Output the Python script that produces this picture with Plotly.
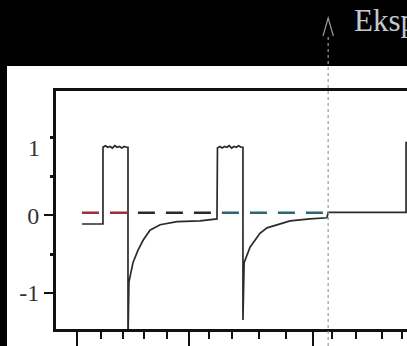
import plotly.graph_objects as go

# ---------------- data (time in tick units, signal in axis units) ----------------
t_sig = [0.21, 1.10, 1.10, 1.20, 1.30, 1.40, 1.50, 1.60, 1.70, 1.80, 1.90, 2.00, 2.10, 2.16,
         2.16, 2.20, 2.37, 2.58, 2.80, 3.09, 3.52, 4.24, 5.21, 5.93,
         5.95, 6.05, 6.15, 6.25, 6.35, 6.45, 6.55, 6.65, 6.75, 6.85, 6.95, 7.03,
         7.03, 7.08, 7.33, 7.75, 8.05, 8.60, 9.03, 9.87, 10.59,
         10.64, 13.94, 13.94, 14.6]
v_sig = [-0.11, -0.11, 0.88, 0.90, 0.88, 0.89, 0.87, 0.90, 0.88, 0.89, 0.87, 0.89, 0.88, 0.88,
         -1.60, -0.86, -0.61, -0.45, -0.32, -0.19, -0.12, -0.08, -0.07, -0.045,
         0.87, 0.89, 0.87, 0.89, 0.88, 0.90, 0.87, 0.89, 0.88, 0.90, 0.88, 0.88,
         -1.35, -0.61, -0.41, -0.23, -0.16, -0.11, -0.07, -0.045, -0.03,
         0.04, 0.04, 0.94, 0.93]

# dashed reference level, drawn in three scan-tinted segments
ref_level = 0.035
ref_segments_t = [(0.21, 2.58), (2.58, 6.14), (6.14, 10.64)]
ref_colors = ["#9c2f3e", "#262b31", "#2c6670"]

x_ticks_major = [0, 4.75, 10]
x_ticks_minor = [1.02, 1.95, 2.84, 3.81, 5.59, 6.57, 7.71, 8.86, 10.8, 11.82, 12.92, 13.77]
y_ticks_major = [0, -1]
y_ticktext = ["0", "-1"]
y_ticks_minor = [1, 0.5, -0.5]
marker_t = 10.64

# ---------------- layout geometry ----------------
W, H = 407, 346
L, R, T, B = 56, 0, 91, 17
pw, ph = W - L - R, H - T - B
x_range = [-0.89, 13.98]
y_range = [-1.465, 1.606]


def xp(px):
    return (px - L) / pw


def yp(py):
    return (H - B - py) / ph


fig = go.Figure()

for (a, b), c in zip(ref_segments_t, ref_colors):
    fig.add_trace(go.Scatter(x=[a, b], y=[ref_level, ref_level], mode="lines",
                             line=dict(color=c, width=2.6, dash="17px,11px"),
                             hoverinfo="skip", showlegend=False))

fig.add_trace(go.Scatter(x=t_sig, y=v_sig, mode="lines",
                         line=dict(color="#2b2b2b", width=1.7),
                         hoverinfo="skip", showlegend=False))

shapes = [
    # white scanned page region
    dict(type="rect", xref="paper", yref="paper", x0=xp(7), x1=1.0, y0=yp(346), y1=yp(66),
         fillcolor="white", line=dict(width=0), layer="below"),
    # dotted event marker line
    dict(type="line", xref="x", yref="paper", x0=marker_t, x1=marker_t, y0=yp(346), y1=yp(35),
         line=dict(color="#9a9a9a", width=1.2, dash="dot")),
    # open arrow head
    dict(type="path", xref="x", yref="paper",
         path=f"M {marker_t-0.22},{yp(36)} L {marker_t},{yp(18)} L {marker_t+0.22},{yp(36)}",
         line=dict(color="#9a9a9a", width=1.2)),
]

annotations = [
    dict(text="1", xref="paper", yref="y", x=xp(42), y=1, xanchor="right", yanchor="middle",
         yshift=-10, showarrow=False, font=dict(family="Liberation Serif", size=24, color="#333")),
    dict(text="Eksp", xref="paper", yref="paper", x=xp(352), y=yp(21), xanchor="left",
         yanchor="middle", showarrow=False,
         font=dict(family="Liberation Serif", size=31, color="#c4c8d2")),
]

fig.update_layout(
    width=W, height=H,
    margin=dict(l=L, r=R, t=T, b=B, pad=0),
    paper_bgcolor="black", plot_bgcolor="white",
    shapes=shapes, annotations=annotations,
    xaxis=dict(range=x_range, showgrid=False, zeroline=False, showline=True, mirror=True,
               linecolor="#111", linewidth=3,
               tickmode="array", tickvals=x_ticks_major, ticks="outside", ticklen=16,
               tickwidth=2, tickcolor="#111", showticklabels=False,
               minor=dict(tickmode="array", tickvals=x_ticks_minor, ticks="outside",
                          ticklen=7, tickwidth=2, tickcolor="#111")),
    yaxis=dict(range=y_range, showgrid=False, zeroline=False, showline=True,
               linecolor="#111", linewidth=3,
               tickmode="array", tickvals=y_ticks_major, ticktext=y_ticktext,
               ticks="outside", ticklen=9, tickwidth=2, tickcolor="#111",
               ticklabelstandoff=0,
               tickfont=dict(family="Liberation Serif", size=24, color="#333"),
               minor=dict(tickmode="array", tickvals=y_ticks_minor, ticks="outside",
                          ticklen=3, tickwidth=3, tickcolor="#111")),
)

fig.write_html("out.html")
